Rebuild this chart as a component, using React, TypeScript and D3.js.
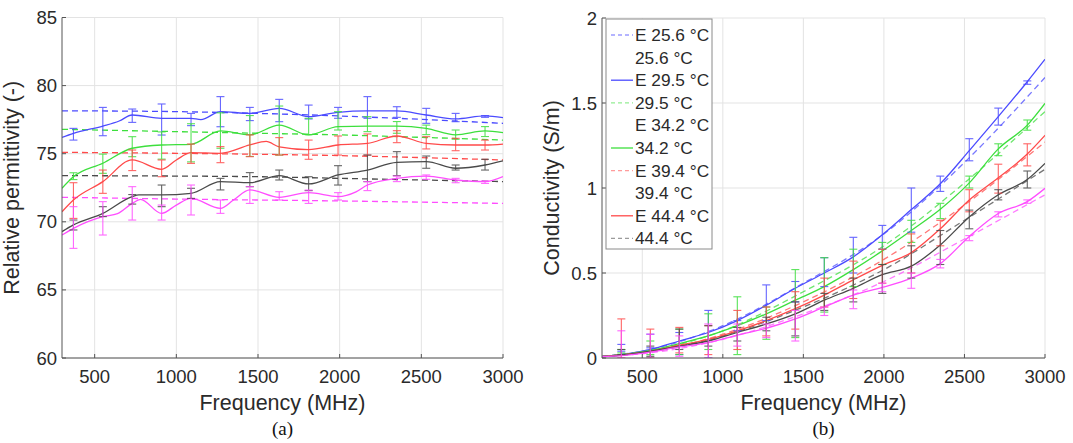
import React from "react";
import * as d3 from "d3";

// temperatures, in the order blue, green, red, black, magenta
const temps = ["25.6", "29.5", "34.2", "39.4", "44.4"];
const colors = ["#4b4bff", "#3ddf3d", "#ff4a4a", "#4a4a4a", "#ff4dff"];

const barFreqs = [370, 550, 730, 910, 1090, 1270, 1450, 1630, 1810, 1990, 2170, 2350, 2530, 2710, 2890];

// (a) relative permittivity, measured curves as [MHz, value]
const permSolid: [number, number][][] = [
  [[300, 76.2], [370, 76.5], [550, 77.03], [650, 77.4], [730, 77.84], [910, 77.6], [1090, 77.6], [1150, 77.5], [1270, 78.09], [1450, 77.96], [1630, 78.33], [1810, 77.72], [1990, 78.04], [2170, 78.14], [2350, 78.14], [2530, 77.84], [2710, 77.55], [2890, 77.77], [3000, 77.65]],
  [[300, 72.46], [370, 73.3], [550, 74.3], [730, 75.4], [910, 75.64], [1090, 75.69], [1270, 76.67], [1450, 76.38], [1630, 77.1], [1810, 76.38], [1990, 76.99], [2170, 77.03], [2350, 77.03], [2530, 76.86], [2710, 76.38], [2890, 76.67], [3000, 76.55]],
  [[300, 70.74], [370, 71.6], [550, 72.95], [730, 74.54], [910, 73.85], [1000, 74.54], [1090, 75.08], [1270, 75.03], [1450, 75.64], [1550, 75.9], [1630, 75.5], [1810, 75.3], [1990, 75.64], [2170, 75.76], [2350, 76.3], [2530, 75.76], [2710, 75.64], [2890, 75.64], [3000, 75.71]],
  [[300, 69.28], [370, 69.77], [550, 70.62], [730, 71.85], [770, 71.97], [910, 71.97], [1090, 72.09], [1270, 72.95], [1450, 72.87], [1630, 73.39], [1810, 72.78], [1990, 73.44], [2170, 73.8], [2350, 74.37], [2530, 74.42], [2710, 73.93], [2890, 74.17], [3000, 74.47]],
  [[300, 69.03], [370, 69.52], [550, 70.38], [640, 70.6], [730, 71.35], [780, 71.65], [910, 70.62], [1000, 71.23], [1090, 71.72], [1270, 70.99], [1350, 71.6], [1450, 72.34], [1630, 71.8], [1810, 72.14], [1990, 71.85], [2100, 72.2], [2170, 72.7], [2350, 73.19], [2530, 73.36], [2710, 73.07], [2890, 72.95], [3000, 73.32]],
];

// (a) model curves
const permDashed: [number, number][][] = [
  [[300, 78.15], [1000, 78.09], [1500, 77.96], [2000, 77.77], [2500, 77.52], [3000, 77.23]],
  [[300, 76.79], [1500, 76.5], [2000, 76.38], [2500, 76.2], [3000, 76.0]],
  [[300, 75.1], [1000, 75.03], [2000, 74.86], [3000, 74.54]],
  [[300, 73.39], [1500, 73.31], [2000, 73.19], [3000, 72.95]],
  [[300, 71.8], [1000, 71.67], [2000, 71.53], [3000, 71.35]],
];

const permBarLo = [
  [76.0, 76.32, 77.3, 76.37, 77.06, 76.98, 77.43, 77.35, 77.55, 77.6, 77.6, 77.67, 77.23, 77.35, 77.67],
  [73.1, 73.56, 74.78, 74.6, 74.4, 75.4, 74.8, 74.9, 76.4, 76.74, 76.62, 76.5, 76.4, 76.06, 76.26],
  [70.25, 72.09, 73.76, 73.31, 74.29, 74.34, 74.78, 74.9, 74.59, 74.9, 74.9, 75.81, 75.35, 75.22, 75.27],
  [69.4, 70.38, 71.3, 71.11, 71.72, 72.34, 72.58, 73.07, 72.29, 72.7, 72.95, 73.39, 73.93, 73.8, 73.8],
  [68.05, 69.03, 70.13, 70.13, 70.5, 70.62, 71.35, 71.6, 71.35, 71.6, 72.29, 72.95, 73.12, 72.87, 72.82],
];
const permBarHi = [
  [76.86, 78.4, 78.28, 78.65, 77.96, 79.19, 78.4, 78.99, 78.57, 78.4, 79.19, 78.45, 78.33, 77.96, 77.8],
  [73.6, 74.97, 76.25, 76.6, 77.2, 78.0, 77.8, 78.5, 77.6, 78.09, 77.72, 77.36, 77.1, 76.74, 76.99],
  [72.87, 73.8, 75.27, 74.54, 75.71, 75.52, 76.38, 76.18, 76.0, 76.3, 76.45, 76.69, 76.25, 76.13, 76.0],
  [70.13, 71.11, 72.0, 72.7, 72.46, 73.19, 73.61, 73.8, 73.31, 74.12, 74.9, 75.15, 74.83, 74.17, 74.59],
  [71.11, 71.48, 72.58, 71.23, 72.7, 71.6, 72.58, 72.21, 72.33, 72.14, 72.95, 73.36, 73.44, 73.19, 73.0],
];

// (b) conductivity
const condFreqs = [250, 370, 550, 730, 910, 1090, 1270, 1450, 1630, 1810, 1990, 2170, 2350, 2530, 2710, 2890, 3000];
const condSolid = [
  [0.008, 0.02, 0.05, 0.1, 0.15, 0.22, 0.31, 0.41, 0.5, 0.595, 0.725, 0.873, 1.025, 1.22, 1.42, 1.625, 1.757],
  [0.008, 0.02, 0.045, 0.085, 0.13, 0.19, 0.26, 0.34, 0.42, 0.52, 0.63, 0.75, 0.875, 1.03, 1.23, 1.37, 1.498],
  [0.008, 0.018, 0.04, 0.075, 0.11, 0.16, 0.22, 0.29, 0.37, 0.46, 0.545, 0.62, 0.76, 0.93, 1.06, 1.2, 1.31],
  [0.008, 0.016, 0.04, 0.07, 0.1, 0.15, 0.2, 0.26, 0.34, 0.41, 0.49, 0.54, 0.665, 0.83, 0.96, 1.05, 1.145],
  [0.008, 0.014, 0.035, 0.065, 0.09, 0.135, 0.175, 0.23, 0.3, 0.37, 0.415, 0.47, 0.555, 0.715, 0.85, 0.92, 0.998],
];
const condModelFreqs = [250, 500, 1000, 1500, 2000, 2500, 3000];
const condDashed = [
  [0.01, 0.04, 0.19, 0.44, 0.73, 1.15, 1.65],
  [0.01, 0.035, 0.16, 0.39, 0.66, 1.03, 1.45],
  [0.01, 0.03, 0.14, 0.33, 0.58, 0.9, 1.27],
  [0.01, 0.03, 0.13, 0.3, 0.52, 0.81, 1.11],
  [0.01, 0.025, 0.11, 0.26, 0.45, 0.7, 0.96],
];
const condBarLo = [
  [0.04, 0.06, 0.02, 0.0, 0.16, 0.22, 0.33, 0.42, 0.5, 0.64, 0.74, 0.98, 1.16, 1.37, 1.61],
  [0.03, 0.02, 0.02, 0.05, 0.02, 0.11, 0.12, 0.27, 0.42, 0.55, 0.68, 0.82, 1.0, 1.19, 1.34],
  [0.0, 0.0, 0.03, 0.02, 0.05, 0.13, 0.17, 0.3, 0.35, 0.44, 0.5, 0.66, 0.86, 0.97, 1.13],
  [0.02, 0.01, 0.05, 0.07, 0.1, 0.16, 0.13, 0.28, 0.33, 0.38, 0.47, 0.55, 0.76, 0.93, 1.0],
  [0.0, 0.0, 0.01, 0.0, 0.07, 0.12, 0.1, 0.25, 0.29, 0.39, 0.41, 0.53, 0.69, 0.83, 0.91],
];
const condBarHi = [
  [0.08, 0.14, 0.15, 0.28, 0.22, 0.43, 0.45, 0.59, 0.71, 0.78, 1.0, 1.07, 1.29, 1.47, 1.63],
  [0.05, 0.1, 0.17, 0.26, 0.36, 0.3, 0.52, 0.59, 0.64, 0.68, 0.81, 0.91, 1.07, 1.26, 1.4],
  [0.23, 0.17, 0.18, 0.19, 0.28, 0.3, 0.39, 0.47, 0.57, 0.64, 0.73, 0.81, 0.99, 1.14, 1.26],
  [0.05, 0.07, 0.17, 0.19, 0.18, 0.24, 0.33, 0.38, 0.47, 0.55, 0.66, 0.75, 0.87, 0.99, 1.1],
  [0.16, 0.14, 0.13, 0.2, 0.2, 0.2, 0.28, 0.3, 0.4, 0.44, 0.5, 0.58, 0.72, 0.86, 0.93],
];

const xTicks = [500, 1000, 1500, 2000, 2500, 3000];
const permTicks = [60, 65, 70, 75, 80, 85];
const condTicks = [0, 0.5, 1, 1.5, 2];

// legend of panel (b), as it appears in the figure
const legendLabels = temps.flatMap((t) => ["E " + t + " °C", t + " °C"]);
const legendSwatch = ["dash0", "", "solid0", "dash1", "", "solid1", "dash2", "", "solid2", "dash3"];

const sans = "'Liberation Sans', Arial, Helvetica, sans-serif";
const serif = "'Liberation Serif', 'Times New Roman', serif";

type PanelProps = {
  id: string;
  x: d3.ScaleLinear<number, number>;
  y: d3.ScaleLinear<number, number>;
  yTicks: number[];
  yTitle: string;
  caption: string;
  solid: [number, number][][];
  dashed: [number, number][][];
  lo: number[][];
  hi: number[][];
  dashOpacity: number;
};

function Panel({ id, x, y, yTicks, yTitle, caption, solid, dashed, lo, hi, dashOpacity }: PanelProps) {
  const [x0, x1] = x.range();
  const [y1, y0] = y.range();
  const line = d3
    .line<[number, number]>()
    .x((d) => x(d[0]))
    .y((d) => y(d[1]))
    .curve(d3.curveMonotoneX);
  const cx = (x0 + x1) / 2;
  return (
    <g>
      <defs>
        <clipPath id={id}>
          <rect x={x0} y={y0} width={x1 - x0} height={y1 - y0} />
        </clipPath>
      </defs>
      {xTicks.map((t) => (
        <line key={"gx" + t} x1={x(t)} x2={x(t)} y1={y0} y2={y1} stroke="#e3e3e3" />
      ))}
      {yTicks.map((t) => (
        <line key={"gy" + t} x1={x0} x2={x1} y1={y(t)} y2={y(t)} stroke="#e3e3e3" />
      ))}
      <g clipPath={`url(#${id})`} fill="none" strokeWidth={1.3}>
        {dashed.map((d, i) => (
          <path key={"d" + i} d={line(d) || ""} stroke={colors[i]} strokeDasharray="6,4" opacity={dashOpacity} />
        ))}
        {solid.map((d, i) => (
          <path key={"s" + i} d={line(d) || ""} stroke={colors[i]} />
        ))}
        {lo.map((row, i) =>
          row.map((v, j) => {
            const bx = x(barFreqs[j]);
            const ya = y(v);
            const yb = y(hi[i][j]);
            return (
              <g key={"e" + i + "-" + j} stroke={colors[i]} strokeWidth={1.1} opacity={0.85}>
                <line x1={bx} x2={bx} y1={ya} y2={yb} />
                <line x1={bx - 4} x2={bx + 4} y1={ya} y2={ya} />
                <line x1={bx - 4} x2={bx + 4} y1={yb} y2={yb} />
              </g>
            );
          })
        )}
      </g>
      <line x1={x0} x2={x0} y1={y0} y2={y1} stroke="#555" />
      <line x1={x0} x2={x1} y1={y1} y2={y1} stroke="#555" />
      {xTicks.map((t) => (
        <line key={"tx" + t} x1={x(t)} x2={x(t)} y1={y1} y2={y1 - 4} stroke="#555" />
      ))}
      {yTicks.map((t) => (
        <line key={"ty" + t} x1={x0} x2={x0 + 4} y1={y(t)} y2={y(t)} stroke="#555" />
      ))}
      <g fontFamily={sans} fontSize={18.5} fill="#2a2a2a">
        {xTicks.map((t) => (
          <text key={"lx" + t} x={x(t)} y={y1 + 25} textAnchor="middle">
            {t}
          </text>
        ))}
        {yTicks.map((t) => (
          <text key={"ly" + t} x={x0 - 5} y={y(t) + 6.5} textAnchor="end">
            {t}
          </text>
        ))}
      </g>
      <text x={cx} y={y1 + 52} textAnchor="middle" fontFamily={sans} fontSize={21.5} fill="#2a2a2a">
        Frequency (MHz)
      </text>
      <text
        transform={`translate(${x0 - 43},${(y0 + y1) / 2}) rotate(-90)`}
        textAnchor="middle"
        fontFamily={sans}
        fontSize={21.5}
        fill="#2a2a2a"
      >
        {yTitle}
      </text>
      <text x={cx} y={y1 + 77} textAnchor="middle" fontFamily={serif} fontSize={19} fill="#111">
        {caption}
      </text>
    </g>
  );
}

function Legend() {
  const left = 606;
  const top = 19;
  const rowH = 22.6;
  return (
    <g>
      <rect x={left} y={top} width={106} height={230} fill="#fff" stroke="#8a8a8a" />
      {legendLabels.map((lab, i) => {
        const cy = top + 16 + i * rowH;
        const sw = legendSwatch[i];
        const ci = sw ? +sw.slice(-1) : 0;
        const dashed = sw.startsWith("dash");
        return (
          <g key={lab}>
            {sw && (
              <line
                x1={left + 5}
                x2={left + 27}
                y1={cy}
                y2={cy}
                stroke={colors[ci]}
                strokeWidth={1.3}
                strokeDasharray={dashed ? "4,3" : undefined}
                opacity={dashed ? 0.55 : 1}
              />
            )}
            <text x={left + 29} y={cy + 6} fontFamily={sans} fontSize={17.3} fill="#2a2a2a">
              {lab}
            </text>
          </g>
        );
      })}
    </g>
  );
}

export default function App() {
  const xL = d3.scaleLinear().domain([300, 3000]).range([62, 503]);
  const yL = d3.scaleLinear().domain([60, 85]).range([358, 17.5]);
  const xR = d3.scaleLinear().domain([250, 3000]).range([602, 1045]);
  const yR = d3.scaleLinear().domain([0, 2]).range([358, 18]);

  const condSolidPts = condSolid.map((row) => row.map((v, j) => [condFreqs[j], v] as [number, number]));
  const condDashedPts = condDashed.map((row) => row.map((v, j) => [condModelFreqs[j], v] as [number, number]));

  return (
    <svg
      width={1073}
      height={443}
      style={{ position: "absolute", left: 0, top: 0, background: "#fff" }}
    >
      <Panel
        id="clipA"
        x={xL}
        y={yL}
        yTicks={permTicks}
        yTitle="Relative permittivity (-)"
        caption="(a)"
        solid={permSolid}
        dashed={permDashed}
        lo={permBarLo}
        hi={permBarHi}
        dashOpacity={1}
      />
      <Panel
        id="clipB"
        x={xR}
        y={yR}
        yTicks={condTicks}
        yTitle="Conductivity (S/m)"
        caption="(b)"
        solid={condSolidPts}
        dashed={condDashedPts}
        lo={condBarLo}
        hi={condBarHi}
        dashOpacity={0.75}
      />
      <Legend />
    </svg>
  );
}
